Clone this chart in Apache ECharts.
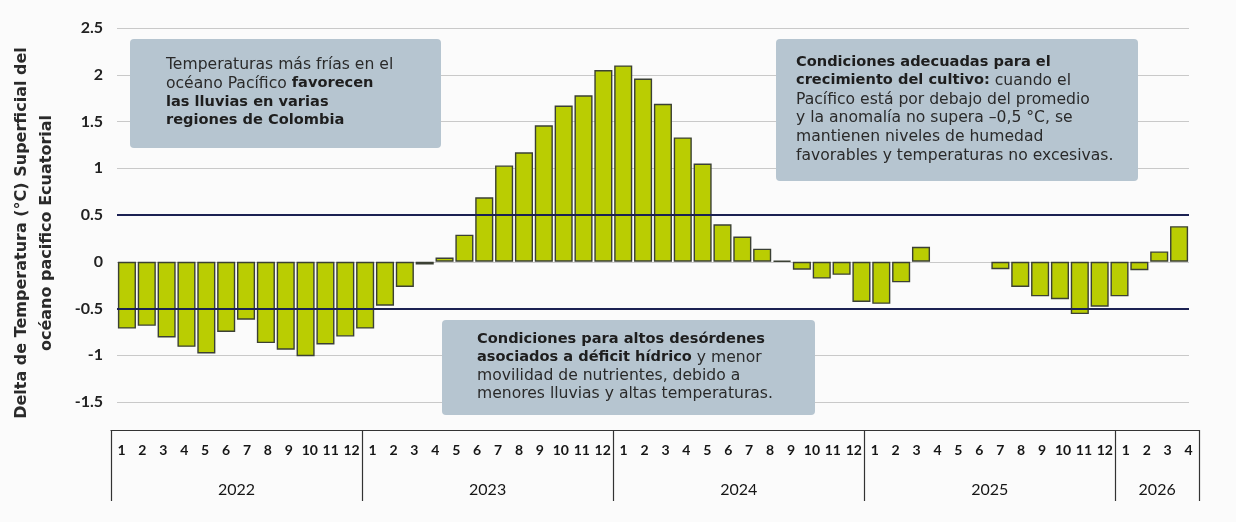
<!DOCTYPE html>
<html>
<head>
<meta charset="utf-8">
<script src="https://cdn.jsdelivr.net/npm/echarts@6/dist/echarts.min.js"></script>
<style>
  html, body { margin: 0; padding: 0; background: #fbfbfb; }
  #main { width: 1236px; height: 522px; }
</style>
</head>
<body>
<div id="main"></div>
<script>
// one value per bar slot (null = no bar drawn)
let anomaly = [
  -0.715, -0.685, -0.81, -0.91, -0.98, -0.75, -0.62, -0.87, -0.94, -1.01, -0.885, -0.80, -0.715,
  -0.47, -0.27, -0.03, 0.045,
  0.29, 0.69, 1.03, 1.17, 1.46, 1.67, 1.78, 2.05, 2.1, 1.96, 1.69, 1.33, 1.05,
  0.40, 0.27, 0.14, 0.01, -0.085, -0.18, -0.14, -0.43, -0.45, -0.22, 0.16,
  null, null, null,
  -0.08, -0.27, -0.37, -0.40, -0.56, -0.48, -0.37, -0.09, 0.11, 0.38
];
let slots = anomaly.map((v, i) => String(i + 1));

// x table: months and years
let months = [];
for (let y = 0; y < 4; y++) {
    for (let m = 1; m <= 12; m++) months.push(String(m));
}
months.push('1', '2', '3', '4');
let years = ['2022', '2023', '2024', '2025', '2026'];
let yearBounds = [0, 12, 24, 36, 48, 52];
let yearCenters = years.map((y, i) => (yearBounds[i] + yearBounds[i + 1]) / 2);

let thresholds = [0.5, -0.5];

let labelFont = 'Lato, sans-serif';
let noteFont = '"DejaVu Sans", sans-serif';

function note(x, y, w, h, tx, ty, lh, text) {
    let st = { fontFamily: noteFont, fontSize: 15.6, lineHeight: lh, fill: '#2a2a2a' };
    return {
        type: 'group',
        children: [
            { type: 'rect', z: 100, shape: { x: x, y: y, width: w, height: h, r: 4 }, style: { fill: '#b6c5d0' } },
            {
                type: 'text', z: 101, x: tx, y: ty,
                style: {
                    text: text,
                    fontFamily: noteFont, fontSize: 15.6, lineHeight: lh, fill: '#2a2a2a',
                    verticalAlign: 'top',
                    rich: {
                        n: st,
                        b: Object.assign({}, st, { fontSize: 14.6, fontWeight: 'bold', fill: '#1e1e1e' })
                    }
                }
            }
        ]
    };
}

let chart = echarts.init(document.getElementById('main'));
let option = {
    animation: false,
    backgroundColor: '#fbfbfb',
    grid: [
        { left: 117, right: 47, top: 28, height: 374 },
        { left: 111, right: 37, top: 430, height: 71 }
    ],
    xAxis: [
        {
            gridIndex: 0,
            type: 'category',
            data: slots,
            axisLine: { show: false },
            axisTick: { show: false },
            axisLabel: { show: false }
        },
        {
            gridIndex: 1,
            type: 'category',
            data: months,
            position: 'top',
            axisLine: { show: true, onZero: false, lineStyle: { color: '#333', width: 1.2 } },
            axisTick: { show: false },
            axisLabel: {
                inside: true, margin: 13, interval: 0, hideOverlap: false,
                fontFamily: labelFont, fontWeight: 'bold', fontSize: 14, color: '#161616'
            }
        },
        {
            gridIndex: 1,
            type: 'value',
            min: 0,
            max: 52,
            position: 'bottom',
            axisLine: { show: false },
            splitLine: { show: false },
            axisTick: {
                show: true, inside: true, length: 71,
                customValues: yearBounds,
                lineStyle: { color: '#333', width: 1.2 }
            },
            axisLabel: {
                inside: true, margin: 3,
                customValues: yearCenters,
                formatter: function (v) {
                    return years[yearCenters.indexOf(v)];
                },
                fontFamily: labelFont, fontSize: 16, color: '#161616'
            }
        }
    ],
    yAxis: [
        {
            gridIndex: 0,
            type: 'value',
            min: -1.5,
            max: 2.5,
            interval: 0.5,
            axisLine: { show: false },
            axisTick: { show: false },
            axisLabel: { margin: 14, fontFamily: labelFont, fontWeight: 'bold', fontSize: 16, color: '#222' },
            splitLine: { lineStyle: { color: '#c9c9c9', width: 1.2 } }
        },
        { gridIndex: 1, type: 'value', show: false }
    ],
    series: [{
        name: 'anomalia',
        type: 'bar',
        xAxisIndex: 0,
        yAxisIndex: 0,
        data: anomaly,
        barCategoryGap: '9%',
        itemStyle: { color: '#bacd02', borderColor: '#3b4034', borderWidth: 1.4 },
        markLine: {
            silent: true,
            symbol: ['none', 'none'],
            label: { show: false },
            lineStyle: { type: 'solid', color: '#1b2152', width: 2 },
            data: thresholds.map(t => ({ yAxis: t }))
        }
    }],
    graphic: [
        {
            type: 'text',
            x: 34, y: 233,
            rotation: Math.PI / 2,
            style: {
                text: 'Delta de Temperatura (°C) Superficial del\nocéano pacifico Ecuatorial',
                fontFamily: noteFont, fontWeight: 'bold', fontSize: 16, lineHeight: 25,
                fill: '#2a2a2a', align: 'center', verticalAlign: 'middle'
            }
        },
        note(130, 39, 311, 109, 166, 56, 18.4,
            '{n|Temperaturas más frías en el}\n{n|océano Pacífico }{b|favorecen}\n{b|las lluvias en varias}\n{b|regiones de Colombia}'),
        note(776, 39, 362, 142, 796, 52.5, 18.8,
            '{b|Condiciones adecuadas para el}\n{b|crecimiento del cultivo:}{n| cuando el}\n{n|Pacífico está por debajo del promedio}\n{n|y la anomalía no supera –0,5 °C, se}\n{n|mantienen niveles de humedad}\n{n|favorables y temperaturas no excesivas.}'),
        note(442, 320, 373, 95, 477, 330, 18.4,
            '{b|Condiciones para altos desórdenes}\n{b|asociados a déficit hídrico}{n| y menor}\n{n|movilidad de nutrientes, debido a}\n{n|menores lluvias y altas temperaturas.}')
    ]
};
chart.setOption(option);
</script>
</body>
</html>
